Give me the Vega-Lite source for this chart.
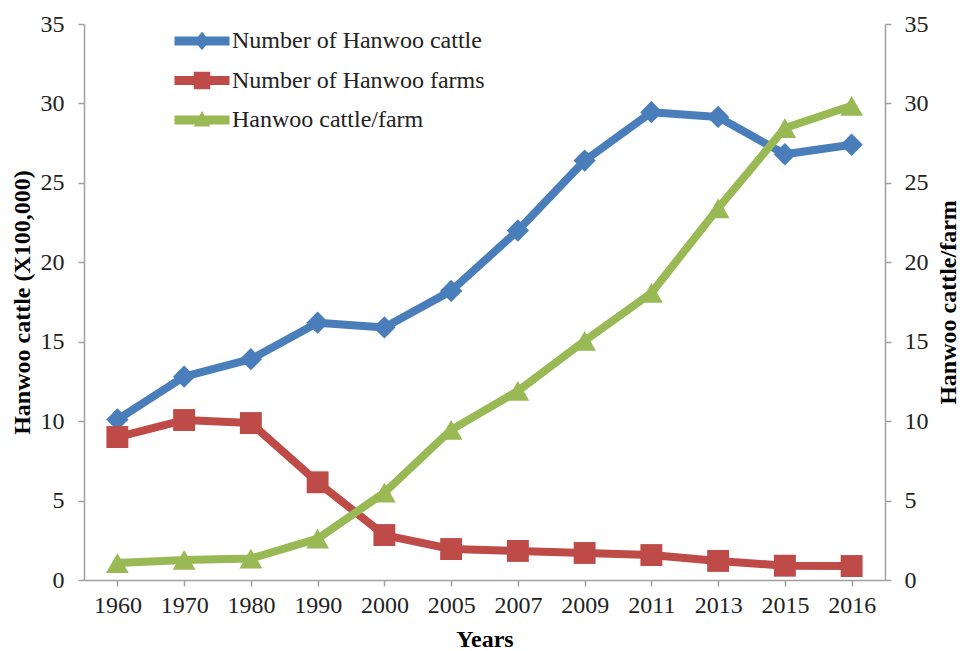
{
  "$schema": "https://vega.github.io/schema/vega-lite/v6.json",
  "width": 801,
  "height": 556,
  "autosize": "none",
  "padding": {"left": 84, "top": 24, "right": 75, "bottom": 71},
  "background": "white",
  "config": {
    "font": "Liberation Serif",
    "view": {"stroke": null},
    "axis": {
      "domainColor": "#a0a0a0",
      "domainWidth": 1.5,
      "tickColor": "#a0a0a0",
      "tickWidth": 1.5,
      "tickSize": 6,
      "grid": false,
      "labelFont": "Liberation Serif",
      "labelFontSize": 24,
      "labelColor": "#222222",
      "titleFont": "Liberation Serif",
      "titleFontSize": 24,
      "titleFontWeight": "bold",
      "titleColor": "#000000"
    },
    "legend": {
      "labelFont": "Liberation Serif",
      "labelFontSize": 24,
      "labelColor": "#222222",
      "labelLimit": 500
    }
  },
  "data": {
    "values": [
      {"year": "1960", "series": "Number of Hanwoo cattle", "value": 10.1},
      {"year": "1970", "series": "Number of Hanwoo cattle", "value": 12.8},
      {"year": "1980", "series": "Number of Hanwoo cattle", "value": 13.9},
      {"year": "1990", "series": "Number of Hanwoo cattle", "value": 16.2},
      {"year": "2000", "series": "Number of Hanwoo cattle", "value": 15.9},
      {"year": "2005", "series": "Number of Hanwoo cattle", "value": 18.2},
      {"year": "2007", "series": "Number of Hanwoo cattle", "value": 22.0},
      {"year": "2009", "series": "Number of Hanwoo cattle", "value": 26.4},
      {"year": "2011", "series": "Number of Hanwoo cattle", "value": 29.45},
      {"year": "2013", "series": "Number of Hanwoo cattle", "value": 29.15},
      {"year": "2015", "series": "Number of Hanwoo cattle", "value": 26.8},
      {"year": "2016", "series": "Number of Hanwoo cattle", "value": 27.4},
      {"year": "1960", "series": "Number of Hanwoo farms", "value": 9.0},
      {"year": "1970", "series": "Number of Hanwoo farms", "value": 10.07},
      {"year": "1980", "series": "Number of Hanwoo farms", "value": 9.88},
      {"year": "1990", "series": "Number of Hanwoo farms", "value": 6.15},
      {"year": "2000", "series": "Number of Hanwoo farms", "value": 2.83},
      {"year": "2005", "series": "Number of Hanwoo farms", "value": 1.95},
      {"year": "2007", "series": "Number of Hanwoo farms", "value": 1.83},
      {"year": "2009", "series": "Number of Hanwoo farms", "value": 1.7},
      {"year": "2011", "series": "Number of Hanwoo farms", "value": 1.57},
      {"year": "2013", "series": "Number of Hanwoo farms", "value": 1.2},
      {"year": "2015", "series": "Number of Hanwoo farms", "value": 0.9},
      {"year": "2016", "series": "Number of Hanwoo farms", "value": 0.88},
      {"year": "1960", "series": "Hanwoo cattle/farm", "value": 1.07},
      {"year": "1970", "series": "Hanwoo cattle/farm", "value": 1.26},
      {"year": "1980", "series": "Hanwoo cattle/farm", "value": 1.35},
      {"year": "1990", "series": "Hanwoo cattle/farm", "value": 2.6},
      {"year": "2000", "series": "Hanwoo cattle/farm", "value": 5.5},
      {"year": "2005", "series": "Hanwoo cattle/farm", "value": 9.45},
      {"year": "2007", "series": "Hanwoo cattle/farm", "value": 11.9},
      {"year": "2009", "series": "Hanwoo cattle/farm", "value": 15.05},
      {"year": "2011", "series": "Hanwoo cattle/farm", "value": 18.07},
      {"year": "2013", "series": "Hanwoo cattle/farm", "value": 23.4},
      {"year": "2015", "series": "Hanwoo cattle/farm", "value": 28.45},
      {"year": "2016", "series": "Hanwoo cattle/farm", "value": 29.85}
    ]
  },
  "encoding": {
    "x": {
      "field": "year",
      "type": "ordinal",
      "scale": {"type": "point", "padding": 0.5},
      "axis": {"title": "Years", "labelAngle": 0, "labelPadding": 7, "titlePadding": 10}
    }
  },
  "layer": [
    {
      "transform": [{"filter": "datum.series != 'Hanwoo cattle/farm'"}],
      "encoding": {
        "y": {
          "field": "value",
          "type": "quantitative",
          "scale": {"domain": [0, 35], "nice": false},
          "axis": {"orient": "left", "title": "Hanwoo cattle (X100,000)", "values": [0, 5, 10, 15, 20, 25, 30, 35], "labelPadding": 14, "titlePadding": 6}
        },
        "color": {
          "field": "series",
          "type": "nominal",
          "scale": {"domain": ["Hanwoo cattle/farm", "Number of Hanwoo cattle", "Number of Hanwoo farms"], "range": ["#98b954", "#4a7ebb", "#be4b48"]},
          "legend": null
        }
      },
      "layer": [
        {"transform": [{"filter": "datum.series == 'Number of Hanwoo cattle'"}], "mark": {"type": "line", "strokeWidth": 8, "strokeCap": "round", "strokeJoin": "round"}},
        {"transform": [{"filter": "datum.series == 'Number of Hanwoo cattle'"}], "mark": {"type": "point", "shape": "diamond", "filled": true, "size": 500, "opacity": 1}},
        {"transform": [{"filter": "datum.series == 'Number of Hanwoo farms'"}], "mark": {"type": "line", "strokeWidth": 8, "strokeCap": "round", "strokeJoin": "round"}},
        {"transform": [{"filter": "datum.series == 'Number of Hanwoo farms'"}], "mark": {"type": "point", "shape": "square", "filled": true, "size": 480, "opacity": 1}}
      ]
    },
    {
      "transform": [{"filter": "datum.series == 'Hanwoo cattle/farm'"}],
      "encoding": {
        "y": {
          "field": "value",
          "type": "quantitative",
          "scale": {"domain": [0, 35], "nice": false},
          "axis": {"orient": "right", "title": "Hanwoo cattle/farm", "titleAngle": 270, "titleBaseline": "top", "values": [0, 5, 10, 15, 20, 25, 30, 35], "labelPadding": 13, "titlePadding": 8}
        },
        "color": {
          "field": "series",
          "type": "nominal",
          "scale": {"domain": ["Hanwoo cattle/farm", "Number of Hanwoo cattle", "Number of Hanwoo farms"], "range": ["#98b954", "#4a7ebb", "#be4b48"]},
          "legend": null
        }
      },
      "layer": [
        {"mark": {"type": "line", "strokeWidth": 8, "strokeCap": "round", "strokeJoin": "round"}},
        {"mark": {"type": "point", "shape": "triangle-up", "filled": true, "size": 520, "opacity": 1}}
      ]
    },
    {
      "transform": [{"filter": "false"}],
      "mark": {"type": "point", "filled": true, "size": 484, "opacity": 1, "strokeWidth": 0},
      "encoding": {
        "color": {
          "field": "series",
          "type": "nominal",
          "scale": {"domain": ["Number of Hanwoo cattle", "Number of Hanwoo farms", "Hanwoo cattle/farm"], "range": ["#4a7ebb", "#be4b48", "#98b954"]},
          "legend": {
            "title": null,
            "orient": "none",
            "legendX": 106,
            "legendY": 5,
            "labelOffset": 18,
            "rowPadding": 15.5,
            "symbolSize": 484,
            "symbolStrokeWidth": 0
          }
        },
        "shape": {
          "field": "series",
          "type": "nominal",
          "scale": {
            "domain": ["Number of Hanwoo cattle", "Number of Hanwoo farms", "Hanwoo cattle/farm"],
            "range": [
              "M-2.5,-0.4 L2.5,-0.4 L2.5,0.4 L-2.5,0.4 Z M0,-0.85 L0.7,0 L0,0.85 L-0.7,0 Z",
              "M-2.5,-0.4 L2.5,-0.4 L2.5,0.4 L-2.5,0.4 Z M-0.75,-0.8 L0.75,-0.8 L0.75,0.8 L-0.75,0.8 Z",
              "M-2.5,-0.4 L2.5,-0.4 L2.5,0.4 L-2.5,0.4 Z M0,-0.85 L0.75,0.6 L-0.75,0.6 Z"
            ]
          },
          "legend": {
            "title": null,
            "orient": "none",
            "legendX": 106,
            "legendY": 5,
            "labelOffset": 18,
            "rowPadding": 15.5,
            "symbolSize": 484,
            "symbolStrokeWidth": 0
          }
        }
      }
    }
  ],
  "resolve": {"scale": {"y": "independent", "color": "independent", "shape": "independent"}}
}
